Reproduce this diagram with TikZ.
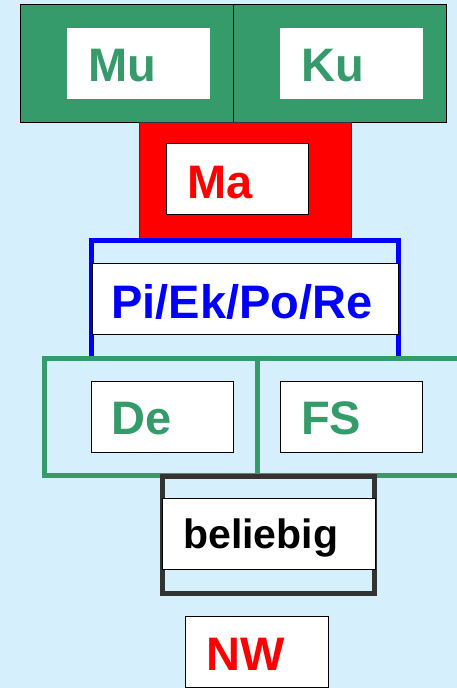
\documentclass[tikz,border=0pt]{standalone}
\usepackage{fontspec}
\setmainfont{Liberation Sans}
\definecolor{bgblue}{RGB}{213,239,253}
\definecolor{lgreen}{RGB}{53,155,107}
\definecolor{dgray}{RGB}{51,51,51}
\tikzset{
  outerbox/.style={draw=black, line width=1pt, anchor=north west, inner sep=0pt},
  wbox/.style={fill=white, anchor=north west, inner sep=0pt},
  wboxb/.style={wbox, draw=black, line width=1pt},
  lbl/.style={anchor=base west, inner sep=0pt, font=\fontsize{47}{47}\selectfont\bfseries},
  lblsmall/.style={lbl, font=\fontsize{41}{41}\selectfont\bfseries},
  frame/.style={line width=5pt},
}
\begin{document}
\begin{tikzpicture}[x=1pt,y=-1pt]
\useasboundingbox (0,0) rectangle (457,688);
\fill[bgblue] (0,0) rectangle (457,688);
% top green boxes
\node[outerbox, fill=lgreen, minimum width=213pt, minimum height=118pt] (mubox) at (20,4) {};
\node[outerbox, fill=lgreen, minimum width=213pt, minimum height=118pt] (kubox) at (233,4) {};
\node[wbox, minimum width=143pt, minimum height=71pt] (muw) at (67,28) {};
\node[wbox, minimum width=143pt, minimum height=71pt] (kuw) at (280,28) {};
\node[lbl, text=lgreen] (mu) at (88,81) {Mu};
\node[lbl, text=lgreen] (ku) at (301,81) {Ku};
% red box
\node[outerbox, draw=dgray, fill=red, minimum width=212pt, minimum height=116pt] (mabox) at (139,122) {};
\node[wboxb, minimum width=142pt, minimum height=71pt] (maw) at (166,143) {};
\node[lbl, text=red] (ma) at (187,198) {Ma};
% blue frame
\draw[frame, blue] (91.5,358) -- (91.5,240) -- (398,240) -- (398,358);
\node[wboxb, minimum width=306pt, minimum height=71pt] (piw) at (92,263) {};
\node[lbl, text=blue] (pi) at (111,318) {Pi/Ek/Po/Re};
% green frames
\draw[frame, lgreen] (44.5,358) rectangle (257,475);
\draw[frame, lgreen] (257,358) -- (460,358);
\draw[frame, lgreen] (257,475) -- (460,475);
\node[wboxb, minimum width=142pt, minimum height=71pt] (dew) at (91,381) {};
\node[wboxb, minimum width=142pt, minimum height=71pt] (fsw) at (280,381) {};
\node[lbl, text=lgreen] (de) at (111,434) {De};
\node[lbl, text=lgreen] (fs) at (301,434) {FS};
% dark frame
\draw[frame, dgray] (162.5,476) rectangle (374.5,593);
\node[wboxb, minimum width=213pt, minimum height=71pt] (bw) at (162,498) {};
\node[lblsmall, text=black] (bel) at (183,548) {beliebig};
% NW
\node[wboxb, minimum width=143pt, minimum height=71pt] (nww) at (185,616) {};
\node[lbl, text=red] (nw) at (206,670) {NW};
\end{tikzpicture}
\end{document}
